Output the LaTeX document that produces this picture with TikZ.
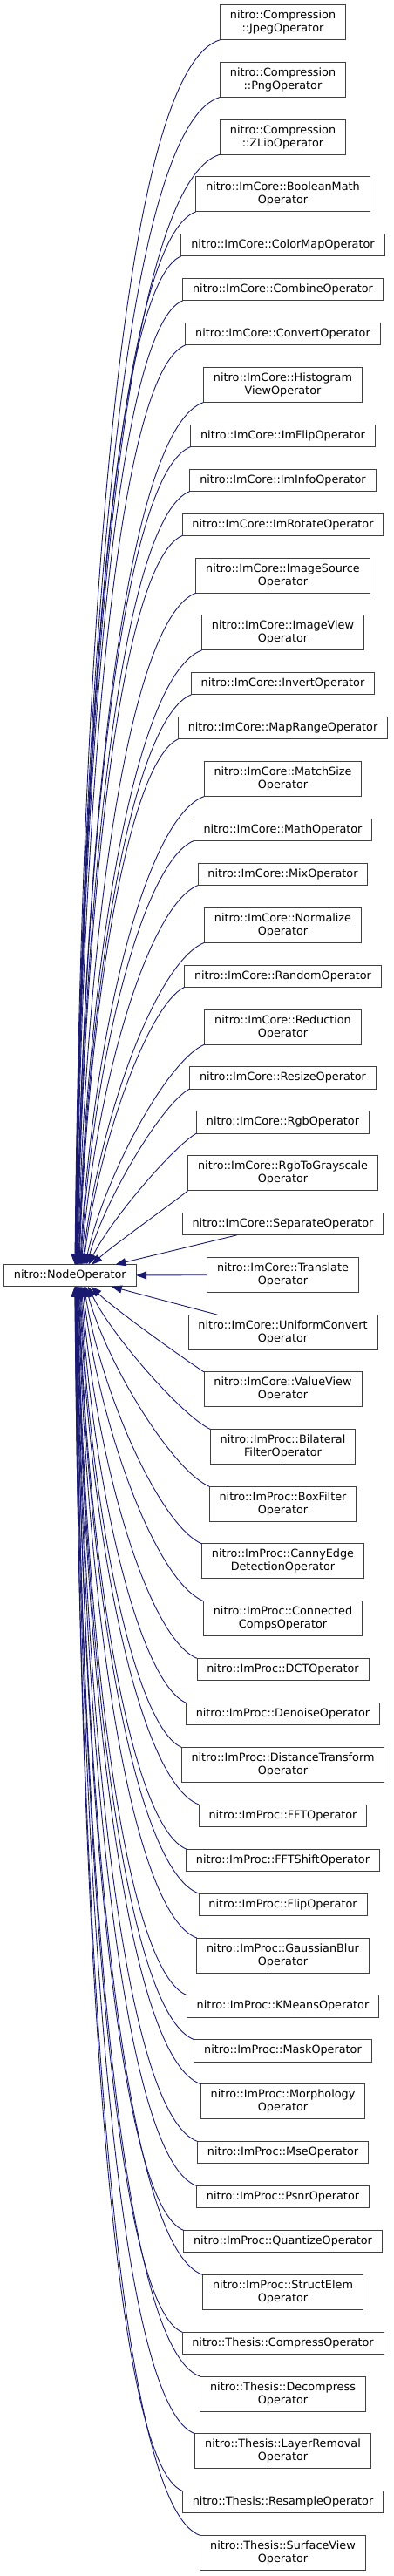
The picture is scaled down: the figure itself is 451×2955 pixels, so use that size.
\documentclass[tikz,border=0pt]{standalone}
\usepackage{fontspec}
\setmainfont{DejaVu Sans}
\usepackage{xcolor}
\usepackage{tikz}
\usetikzlibrary{arrows.meta, positioning, calc}
\definecolor{midblue}{HTML}{191970}
\definecolor{dgray}{HTML}{404040}
\tikzset{
  cls/.style={draw=dgray, line width=0.9pt, fill=white, inner xsep=11.4pt, inner ysep=2pt,
    outer sep=0pt, minimum height=25.3pt, align=center, font=\fontsize{12.8}{15}\selectfont},
  cls2/.style={cls, minimum height=40pt},
  inh/.style={draw=midblue, line width=0.9pt, -{Triangle[length=12pt, width=9pt]}}
}

\begin{document}
\begin{tikzpicture}[x=1pt, y=-1pt, node distance=25.7pt]
\useasboundingbox (0,0) rectangle (451,2955);
\node[cls] (nodeop) at (80.3,1463.2) {nitro::NodeOperator};
\node[cls2] (jpeg) at (324.5,25.7) {nitro::Compression\\::JpegOperator};
\node[cls2, below=of jpeg] (png) {nitro::Compression\\::PngOperator};
\node[cls2, below=of png] (zlib) {nitro::Compression\\::ZLibOperator};
\node[cls2, below=of zlib] (boolmath) {nitro::ImCore::BooleanMath\\Operator};
\node[cls, below=of boolmath] (colormap) {nitro::ImCore::ColorMapOperator};
\node[cls, below=of colormap] (combine) {nitro::ImCore::CombineOperator};
\node[cls, below=of combine] (convert) {nitro::ImCore::ConvertOperator};
\node[cls2, below=of convert] (histview) {nitro::ImCore::Histogram\\ViewOperator};
\node[cls, below=of histview] (imflip) {nitro::ImCore::ImFlipOperator};
\node[cls, below=of imflip] (iminfo) {nitro::ImCore::ImInfoOperator};
\node[cls, below=of iminfo] (imrotate) {nitro::ImCore::ImRotateOperator};
\node[cls2, below=of imrotate] (imgsource) {nitro::ImCore::ImageSource\\Operator};
\node[cls2, below=of imgsource] (imgview) {nitro::ImCore::ImageView\\Operator};
\node[cls, below=of imgview] (invert) {nitro::ImCore::InvertOperator};
\node[cls, below=of invert] (maprange) {nitro::ImCore::MapRangeOperator};
\node[cls2, below=of maprange] (matchsize) {nitro::ImCore::MatchSize\\Operator};
\node[cls, below=of matchsize] (math) {nitro::ImCore::MathOperator};
\node[cls, below=of math] (mix) {nitro::ImCore::MixOperator};
\node[cls2, below=of mix] (normalize) {nitro::ImCore::Normalize\\Operator};
\node[cls, below=of normalize] (random) {nitro::ImCore::RandomOperator};
\node[cls2, below=of random] (reduction) {nitro::ImCore::Reduction\\Operator};
\node[cls, below=of reduction] (resize) {nitro::ImCore::ResizeOperator};
\node[cls, below=of resize] (rgb) {nitro::ImCore::RgbOperator};
\node[cls2, below=of rgb] (rgbgray) {nitro::ImCore::RgbToGrayscale\\Operator};
\node[cls, below=of rgbgray] (separate) {nitro::ImCore::SeparateOperator};
\node[cls2, below=of separate] (translate) {nitro::ImCore::Translate\\Operator};
\node[cls2, below=of translate] (uniconv) {nitro::ImCore::UniformConvert\\Operator};
\node[cls2, below=of uniconv] (valueview) {nitro::ImCore::ValueView\\Operator};
\node[cls2, below=of valueview] (bilateral) {nitro::ImProc::Bilateral\\FilterOperator};
\node[cls2, below=of bilateral] (boxfilter) {nitro::ImProc::BoxFilter\\Operator};
\node[cls2, below=of boxfilter] (canny) {nitro::ImProc::CannyEdge\\DetectionOperator};
\node[cls2, below=of canny] (conncomps) {nitro::ImProc::Connected\\CompsOperator};
\node[cls, below=of conncomps] (dct) {nitro::ImProc::DCTOperator};
\node[cls, below=of dct] (denoise) {nitro::ImProc::DenoiseOperator};
\node[cls2, below=of denoise] (disttrans) {nitro::ImProc::DistanceTransform\\Operator};
\node[cls, below=of disttrans] (fft) {nitro::ImProc::FFTOperator};
\node[cls, below=of fft] (fftshift) {nitro::ImProc::FFTShiftOperator};
\node[cls, below=of fftshift] (flip) {nitro::ImProc::FlipOperator};
\node[cls2, below=of flip] (gblur) {nitro::ImProc::GaussianBlur\\Operator};
\node[cls, below=of gblur] (kmeans) {nitro::ImProc::KMeansOperator};
\node[cls, below=of kmeans] (mask) {nitro::ImProc::MaskOperator};
\node[cls2, below=of mask] (morph) {nitro::ImProc::Morphology\\Operator};
\node[cls, below=of morph] (mse) {nitro::ImProc::MseOperator};
\node[cls, below=of mse] (psnr) {nitro::ImProc::PsnrOperator};
\node[cls, below=of psnr] (quantize) {nitro::ImProc::QuantizeOperator};
\node[cls2, below=of quantize] (structelem) {nitro::ImProc::StructElem\\Operator};
\node[cls, below=of structelem] (compress) {nitro::Thesis::CompressOperator};
\node[cls2, below=of compress] (decompress) {nitro::Thesis::Decompress\\Operator};
\node[cls2, below=of decompress] (layerrem) {nitro::Thesis::LayerRemoval\\Operator};
\node[cls, below=of layerrem] (resample) {nitro::Thesis::ResampleOperator};
\node[cls2, below=of resample] (surfview) {nitro::Thesis::SurfaceView\\Operator};

\foreach \cls in {jpeg,png,zlib,boolmath,colormap,combine,convert,histview,imflip,iminfo,
  imrotate,imgsource,imgview,invert,maprange,matchsize,math,mix,normalize,random,
  reduction,resize,rgb,rgbgray}
  \draw[inh] let \p1=(\cls.south west), \p2=(nodeop.north),
    \n1={\y1-\y2}, \n2={\n1/(\n1+300)}, \n3={32*(1-\n2)}, \n4={\x1-\x2-\n3} in
    (\p1) .. controls ({\x1-\n4*(0.8*\n2-0.05)}, {\y1-0.1*\n1*(1-\n2)-5})
    and ({\x2+\n3+0.3*(1-\n2)*\n4}, {\y2+\n1*(0.15+0.55*\n2)}) .. ({\x2+\n3}, \y2);
\foreach \cls in {valueview,bilateral,boxfilter,canny,conncomps,dct,denoise,disttrans,
  fft,fftshift,flip,gblur,kmeans,mask,morph,mse,psnr,quantize,structelem,compress,
  decompress,layerrem,resample,surfview}
  \draw[inh] let \p1=(\cls.north west), \p2=(nodeop.south),
    \n1={\y2-\y1}, \n2={\n1/(\n1+300)}, \n3={32*(1-\n2)}, \n4={\x1-\x2-\n3} in
    (\p1) .. controls ({\x1-\n4*(0.8*\n2-0.05)}, {\y1+0.1*\n1*(1-\n2)+5})
    and ({\x2+\n3+0.3*(1-\n2)*\n4}, {\y2-\n1*(0.15+0.55*\n2)}) .. ({\x2+\n3}, \y2);
\draw[inh] (separate) -- (nodeop);
\draw[inh] (translate) -- (nodeop);
\draw[inh] (uniconv) -- (nodeop);
\end{tikzpicture}
\end{document}
